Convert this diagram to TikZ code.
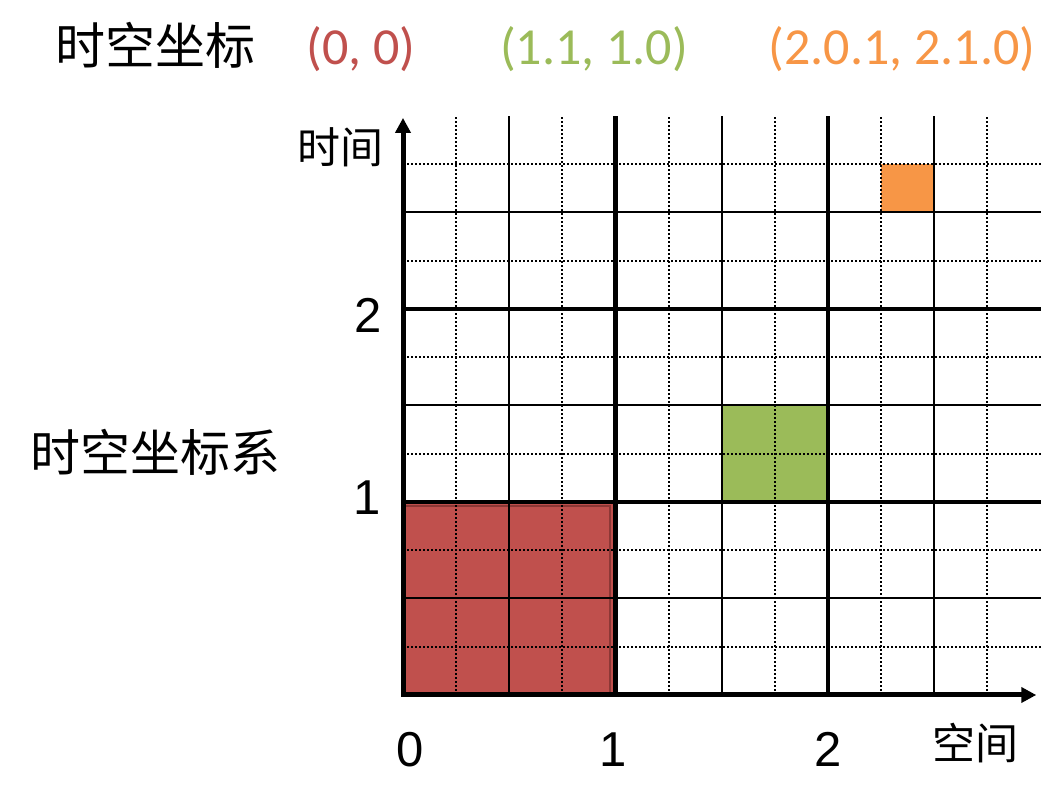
\documentclass[tikz,border=0pt]{standalone}
\usepackage{fontspec}
\setmainfont{Liberation Sans}
\newfontfamily\cjkfont{Noto Sans CJK SC}
\newfontfamily\coordfont{Carlito}
\usetikzlibrary{arrows.meta}
\definecolor{cred}{HTML}{C0504D}
\definecolor{credborder}{HTML}{8C3836}
\definecolor{cgreen}{HTML}{9BBB59}
\definecolor{corange}{HTML}{F79646}
\begin{document}
\begin{tikzpicture}[x=1pt,y=1pt,
  minorline/.style={line width=2pt},
  dotline/.style={line width=2pt, dash pattern=on 2pt off 2pt},
  majorline/.style={line width=4.5pt},
  axisline/.style={line width=5pt, line cap=rect, -{Triangle[length=15pt,width=15pt]}},
  cjklabel/.style={font=\cjkfont\fontsize{50pt}{60pt}\selectfont, inner sep=0pt},
  cjksmall/.style={font=\cjkfont\fontsize{43pt}{52pt}\selectfont, inner sep=0pt},
  coordlabel/.style={font=\coordfont\fontsize{52pt}{62pt}\selectfont, inner sep=0pt, anchor=base},
  numlabel/.style={font=\fontsize{49pt}{59pt}\selectfont, inner sep=0pt, anchor=base}]
\useasboundingbox (0,0) rectangle (1059,810);
\begin{scope}[shift={(403,115)}, x=53.125pt, y=48.25pt]
  \fill[cred] (0,0) rectangle (4,4);
  \draw[credborder, line width=2pt] (0.02,0.02) rectangle (3.9,3.92);
  \fill[cgreen] (6,4) rectangle (8,6);
  \fill[corange] (9,10) rectangle (10,11);
  \foreach \i in {1,3,...,11} \draw[dotline] (\i,0) -- (\i,12);
  \foreach \i in {2,6,10} \draw[minorline] (\i,0) -- (\i,12);
  \foreach \i in {4,8} \draw[majorline] (\i,0) -- (\i,12);
  \foreach \j in {1,3,...,11} \draw[dotline] (0,\j) -- (12,\j);
  \foreach \j in {2,6,10} \draw[minorline] (0,\j) -- (12,\j);
  \foreach \j in {4,8} \draw[majorline] (0,\j) -- (12,\j);
  \coordinate (O) at (0,0);
  \coordinate (X) at (11.92,0);
  \coordinate (Y) at (0,11.96);
\end{scope}
\draw[axisline] (O) -- (X);
\draw[axisline] (O) -- (Y);
% top line
\node[cjklabel] (title) at (155,765) {时空坐标};
\node[coordlabel, text=cred] (c0) at (361,745) {(0, 0)};
\node[coordlabel, text=cgreen] (c1) at (594,745) {(1.1, 1.0)};
\node[coordlabel, text=corange] (c2) at (902,745) {(2.0.1, 2.1.0)};
% axis labels
\node[cjksmall] (tlabel) at (340,663) {时间};
\node[cjksmall] (slabel) at (975,67) {空间};
\node[cjklabel] (system) at (155,358) {时空坐标系};
\node[numlabel] (x0) at (410,43) {0};
\node[numlabel] (x1) at (613,43) {1};
\node[numlabel] (x2) at (828,43) {2};
\node[numlabel] (y1) at (367,295) {1};
\node[numlabel] (y2) at (368,477) {2};
\end{tikzpicture}
\end{document}
